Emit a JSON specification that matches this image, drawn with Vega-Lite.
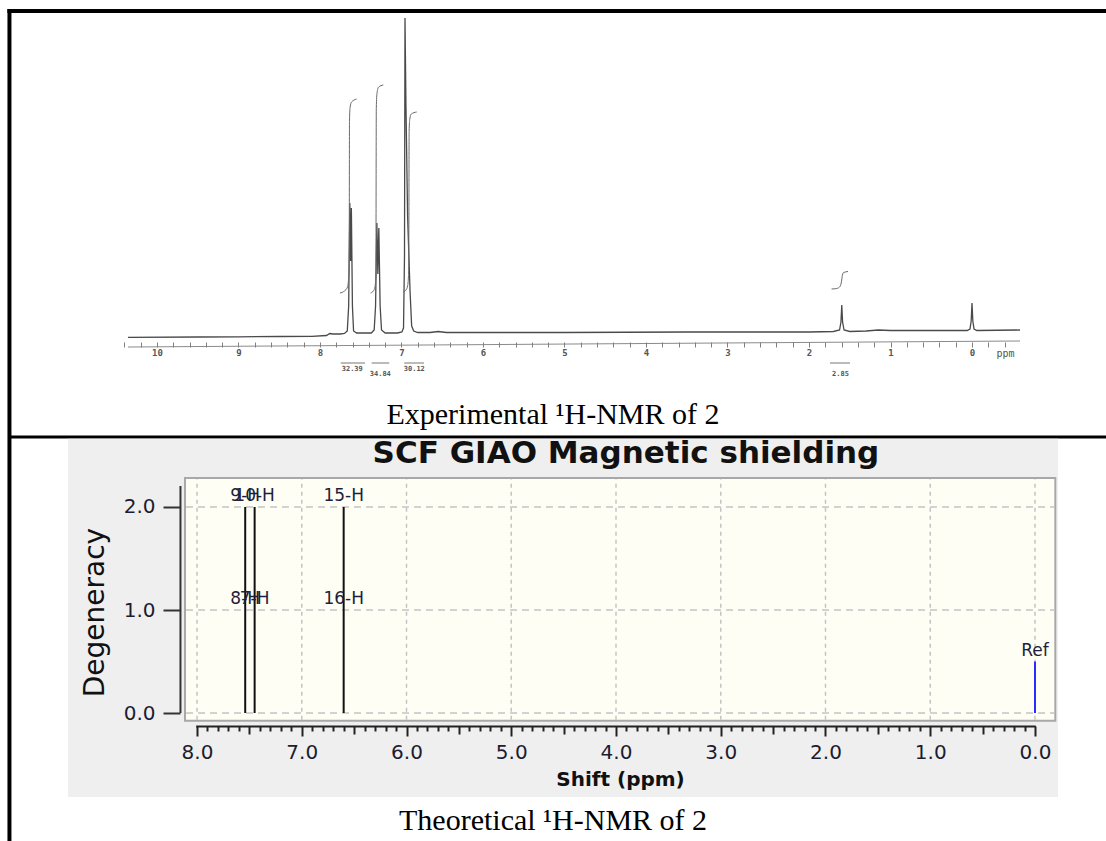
{
  "$schema": "https://vega.github.io/schema/vega-lite/v6.json",
  "width": 1106,
  "height": 841,
  "autosize": {"type": "none"},
  "padding": 0,
  "background": "white",
  "config": {"view": {"stroke": null}, "axis": {"grid": false}},
  "datasets": {
    "spectrum": [
      {"ppm": 10.356, "v": -1.3}, {"ppm": 9.5, "v": -1}, {"ppm": 9.0, "v": -0.8}, {"ppm": 8.5, "v": -0.5},
      {"ppm": 8.1, "v": -0.3}, {"ppm": 7.92, "v": 0.5}, {"ppm": 7.88, "v": 2.5}, {"ppm": 7.84, "v": 2},
      {"ppm": 7.75, "v": 2}, {"ppm": 7.70, "v": 2.5}, {"ppm": 7.665, "v": 5}, {"ppm": 7.648, "v": 30},
      {"ppm": 7.634, "v": 133}, {"ppm": 7.624, "v": 75}, {"ppm": 7.615, "v": 128}, {"ppm": 7.602, "v": 30},
      {"ppm": 7.588, "v": 5}, {"ppm": 7.55, "v": 3}, {"ppm": 7.45, "v": 3}, {"ppm": 7.37, "v": 3},
      {"ppm": 7.335, "v": 6}, {"ppm": 7.318, "v": 30}, {"ppm": 7.302, "v": 113}, {"ppm": 7.290, "v": 62},
      {"ppm": 7.278, "v": 108}, {"ppm": 7.262, "v": 30}, {"ppm": 7.245, "v": 6}, {"ppm": 7.20, "v": 3},
      {"ppm": 7.05, "v": 3}, {"ppm": 6.995, "v": 4}, {"ppm": 6.975, "v": 8}, {"ppm": 6.963, "v": 80},
      {"ppm": 6.957, "v": 318}, {"ppm": 6.945, "v": 230}, {"ppm": 6.925, "v": 120}, {"ppm": 6.895, "v": 45},
      {"ppm": 6.875, "v": 10}, {"ppm": 6.85, "v": 5}, {"ppm": 6.80, "v": 3.5}, {"ppm": 6.65, "v": 3.5},
      {"ppm": 6.55, "v": 4.5}, {"ppm": 6.45, "v": 3.5}, {"ppm": 5.0, "v": 3.5}, {"ppm": 3.5, "v": 4},
      {"ppm": 2.0, "v": 4}, {"ppm": 1.70, "v": 4.5}, {"ppm": 1.625, "v": 6}, {"ppm": 1.608, "v": 14},
      {"ppm": 1.598, "v": 31}, {"ppm": 1.588, "v": 14}, {"ppm": 1.570, "v": 6}, {"ppm": 1.50, "v": 4.5},
      {"ppm": 1.30, "v": 5}, {"ppm": 1.15, "v": 6}, {"ppm": 1.0, "v": 5.5}, {"ppm": 0.5, "v": 5.5},
      {"ppm": 0.06, "v": 5.5}, {"ppm": 0.025, "v": 7}, {"ppm": 0.010, "v": 15}, {"ppm": 0.0, "v": 33},
      {"ppm": -0.010, "v": 15}, {"ppm": -0.025, "v": 7}, {"ppm": -0.06, "v": 5.5}, {"ppm": -0.589, "v": 6}
    ],
    "integrals": [
      {"id": 1, "ppm": 7.755, "v": 43}, {"id": 1, "ppm": 7.700, "v": 45}, {"id": 1, "ppm": 7.662, "v": 49},
      {"id": 1, "ppm": 7.647, "v": 60}, {"id": 1, "ppm": 7.641, "v": 90}, {"id": 1, "ppm": 7.638, "v": 215},
      {"id": 1, "ppm": 7.630, "v": 229}, {"id": 1, "ppm": 7.612, "v": 234}, {"id": 1, "ppm": 7.550, "v": 237},
      {"id": 2, "ppm": 7.378, "v": 43}, {"id": 2, "ppm": 7.345, "v": 45}, {"id": 2, "ppm": 7.325, "v": 49},
      {"id": 2, "ppm": 7.316, "v": 60}, {"id": 2, "ppm": 7.313, "v": 90}, {"id": 2, "ppm": 7.309, "v": 228},
      {"id": 2, "ppm": 7.300, "v": 243}, {"id": 2, "ppm": 7.280, "v": 249}, {"id": 2, "ppm": 7.223, "v": 251},
      {"id": 3, "ppm": 6.977, "v": 44}, {"id": 3, "ppm": 6.945, "v": 46}, {"id": 3, "ppm": 6.925, "v": 50},
      {"id": 3, "ppm": 6.914, "v": 60}, {"id": 3, "ppm": 6.910, "v": 90}, {"id": 3, "ppm": 6.906, "v": 205},
      {"id": 3, "ppm": 6.898, "v": 217}, {"id": 3, "ppm": 6.880, "v": 222}, {"id": 3, "ppm": 6.813, "v": 224},
      {"id": 4, "ppm": 1.723, "v": 47}, {"id": 4, "ppm": 1.660, "v": 47.5}, {"id": 4, "ppm": 1.625, "v": 49},
      {"id": 4, "ppm": 1.605, "v": 53}, {"id": 4, "ppm": 1.597, "v": 57}, {"id": 4, "ppm": 1.590, "v": 61},
      {"id": 4, "ppm": 1.575, "v": 63.5}, {"id": 4, "ppm": 1.521, "v": 64.5}
    ],
    "integ": [
      {"ppm": 7.604, "from": 7.745, "to": 7.448, "value": "32.39", "tier": 0},
      {"ppm": 7.260, "from": 7.366, "to": 7.150, "value": "34.84", "tier": 1},
      {"ppm": 6.843, "from": 6.966, "to": 6.724, "value": "30.12", "tier": 0},
      {"ppm": 1.613, "from": 1.742, "to": 1.497, "value": "2.85", "tier": 1}
    ],
    "sticks": [
      {"shift": 7.54, "deg": 2, "kind": "H"},
      {"shift": 7.45, "deg": 2, "kind": "H"},
      {"shift": 6.60, "deg": 2, "kind": "H"},
      {"shift": 0.0, "deg": 0.5, "kind": "Ref"}
    ],
    "atoms": [
      {"shift": 7.54, "deg": 2, "label": "9-H"},
      {"shift": 7.54, "deg": 1, "label": "8-H"},
      {"shift": 7.45, "deg": 2, "label": "10-H"},
      {"shift": 7.45, "deg": 1, "label": "7-H"},
      {"shift": 6.60, "deg": 2, "label": "15-H"},
      {"shift": 6.60, "deg": 1, "label": "16-H"},
      {"shift": 0.0, "deg": 0.5, "label": "Ref"}
    ],
    "gridx": [{"shift": 8}, {"shift": 7}, {"shift": 6}, {"shift": 5}, {"shift": 4}, {"shift": 3}, {"shift": 2}, {"shift": 1}, {"shift": 0}],
    "gridy": [{"deg": 0}, {"deg": 1}, {"deg": 2}]
  },
  "resolve": {"scale": {"x": "independent", "y": "independent"}, "axis": {"x": "independent", "y": "independent"}},
  "layer": [
    {
      "layer": [
        {
          "data": {"name": "spectrum"},
          "mark": {"type": "line", "color": "#4a4a4a", "strokeWidth": 1.3, "interpolate": "linear"},
          "encoding": {
            "x": {"field": "ppm", "type": "quantitative", "scale": {"domain": [-1.644, 11.926], "reverse": true, "nice": false, "zero": false}, "axis": null},
            "y": {"field": "v", "type": "quantitative", "scale": {"domain": [-505, 336], "nice": false, "zero": false}, "axis": null}
          }
        },
        {
          "data": {"name": "integrals"},
          "mark": {"type": "line", "color": "#6a6a6a", "strokeWidth": 1, "interpolate": "monotone"},
          "encoding": {
            "x": {"field": "ppm", "type": "quantitative", "scale": {"domain": [-1.644, 11.926], "reverse": true, "nice": false, "zero": false}, "axis": null},
            "y": {"field": "v", "type": "quantitative", "scale": {"domain": [-505, 336], "nice": false, "zero": false}, "axis": null},
            "detail": {"field": "id"}
          }
        },
        {
          "data": {"values": [{}]},
          "mark": {"type": "rule", "color": "#8a8a8a", "strokeWidth": 1},
          "encoding": {
            "x": {"datum": 10.356, "type": "quantitative", "axis": null}, "x2": {"datum": -0.589},
            "y": {"datum": -11, "type": "quantitative", "axis": null}, "y2": {"datum": -5}
          }
        },
        {
          "data": {"name": "integ"},
          "mark": {"type": "rule", "color": "#777777", "strokeWidth": 1},
          "encoding": {
            "x": {"field": "from", "type": "quantitative", "axis": null}, "x2": {"field": "to"},
            "y": {"datum": -27, "type": "quantitative", "axis": null}
          }
        },
        {
          "data": {"name": "integ"},
          "transform": [{"filter": "datum.tier == 0"}],
          "mark": {"type": "text", "font": "DejaVu Sans Mono", "fontSize": 7, "fontWeight": "bold", "color": "#555555", "align": "center", "baseline": "middle"},
          "encoding": {
            "x": {"field": "ppm", "type": "quantitative", "axis": null},
            "y": {"datum": -33, "type": "quantitative", "axis": null},
            "text": {"field": "value"}
          }
        },
        {
          "data": {"name": "integ"},
          "transform": [{"filter": "datum.tier == 1"}],
          "mark": {"type": "text", "font": "DejaVu Sans Mono", "fontSize": 7, "fontWeight": "bold", "color": "#555555", "align": "center", "baseline": "middle"},
          "encoding": {
            "x": {"field": "ppm", "type": "quantitative", "axis": null},
            "y": {"datum": -38, "type": "quantitative", "axis": null},
            "text": {"field": "value"}
          }
        },
        {
          "data": {"values": [{"caption": "Experimental ¹H-NMR of 2"}]},
          "mark": {"type": "text", "font": "Liberation Serif", "fontSize": 30, "color": "#000000", "align": "center", "baseline": "alphabetic"},
          "encoding": {
            "x": {"datum": 5.141, "type": "quantitative", "axis": null},
            "y": {"datum": -88, "type": "quantitative", "axis": null},
            "text": {"field": "caption"}
          }
        },
        {
          "data": {"values": [{}]},
          "mark": {"type": "rule", "color": "#000000", "strokeWidth": 4},
          "encoding": {
            "x": {"datum": 11.835, "type": "quantitative", "axis": null}, "x2": {"datum": -1.644},
            "y": {"datum": 325, "type": "quantitative", "axis": null}
          }
        },
        {
          "data": {"values": [{}]},
          "mark": {"type": "rule", "color": "#000000", "strokeWidth": 3},
          "encoding": {
            "x": {"datum": 11.81, "type": "quantitative", "axis": null}, "x2": {"datum": -1.644},
            "y": {"datum": -101, "type": "quantitative", "axis": null}
          }
        },
        {
          "data": {"values": [{}]},
          "mark": {"type": "rule", "color": "#000000", "strokeWidth": 4},
          "encoding": {
            "x": {"datum": 11.81, "type": "quantitative", "axis": null},
            "y": {"datum": 327, "type": "quantitative", "axis": null}, "y2": {"datum": -505}
          }
        }
      ]
    },
    {
      "data": {"name": "spectrum"},
      "mark": {"type": "point", "opacity": 0},
      "encoding": {
        "x": {
          "field": "ppm", "type": "quantitative",
          "scale": {"domain": [-1.644, 11.926], "reverse": true, "nice": false, "zero": false},
          "axis": {
            "orient": "bottom", "offset": -499, "domain": false, "grid": false, "zindex": 1,
            "values": [10.4, 10.2, 10, 9.8, 9.6, 9.4, 9.2, 9, 8.8, 8.6, 8.4, 8.2, 8, 7.8, 7.6, 7.4, 7.2, 7, 6.8, 6.6, 6.4, 6.2, 6, 5.8, 5.6, 5.4, 5.2, 5, 4.8, 4.6, 4.4, 4.2, 4, 3.8, 3.6, 3.4, 3.2, 3, 2.8, 2.6, 2.4, 2.2, 2, 1.8, 1.6, 1.4, 1.2, 1, 0.8, 0.6, 0.4, 0.2, 0, -0.2, -0.4],
            "labelExpr": "abs(datum.value - round(datum.value)) < 0.01 ? format(datum.value, 'd') : ''",
            "tickSize": 5, "tickWidth": 1, "tickColor": "#808080",
            "labelFont": "DejaVu Sans Mono", "labelFontWeight": "bold", "labelFontSize": 9, "labelColor": "#555555",
            "labelPadding": 1, "labelOverlap": false, "labelFlush": false,
            "title": "ppm", "titleFont": "DejaVu Sans Mono", "titleFontSize": 10, "titleFontWeight": "normal",
            "titleColor": "#555555", "titleX": 1005, "titleY": 11, "titleAlign": "center", "titleBaseline": "middle"
          }
        }
      }
    },
    {
      "layer": [
        {
          "data": {"values": [{}]},
          "mark": {"type": "rect", "color": "#efefef"},
          "encoding": {
            "x": {"datum": 9.232, "type": "quantitative", "axis": null}, "x2": {"datum": -0.220},
            "y": {"datum": 2.662, "type": "quantitative", "axis": null}, "y2": {"datum": -0.816}
          }
        },
        {
          "data": {"values": [{}]},
          "mark": {"type": "rect", "fill": "#fefef4", "stroke": "#a8a8a8", "strokeWidth": 2},
          "encoding": {
            "x": {"datum": 8.115, "type": "quantitative", "axis": null}, "x2": {"datum": -0.194},
            "y": {"datum": 2.282, "type": "quantitative", "axis": null}, "y2": {"datum": -0.075}
          }
        },
        {
          "data": {"name": "gridx"},
          "mark": {"type": "rule", "color": "#c4c4c4", "strokeWidth": 1.5, "strokeDash": [4, 4]},
          "encoding": {
            "x": {"field": "shift", "type": "quantitative", "scale": {"domain": [-0.678, 9.881], "reverse": true, "nice": false, "zero": false}, "axis": null},
            "y": {"datum": -0.065, "type": "quantitative", "axis": null}, "y2": {"datum": 2.27}
          }
        },
        {
          "data": {"name": "gridy"},
          "mark": {"type": "rule", "color": "#c4c4c4", "strokeWidth": 1.5, "strokeDash": [7, 5]},
          "encoding": {
            "y": {"field": "deg", "type": "quantitative", "scale": {"domain": [-1.2427, 6.9223], "nice": false, "zero": false}, "axis": null},
            "x": {"datum": 8.105, "type": "quantitative", "axis": null}, "x2": {"datum": -0.185}
          }
        },
        {
          "data": {"values": [{}]},
          "mark": {"type": "rule", "color": "#333333", "strokeWidth": 2},
          "encoding": {
            "x": {"datum": 8.158, "type": "quantitative", "axis": null},
            "y": {"datum": 0, "type": "quantitative", "axis": null}, "y2": {"datum": 2.204}
          }
        },
        {
          "data": {"values": [{}]},
          "mark": {"type": "rule", "color": "#222222", "strokeWidth": 2},
          "encoding": {
            "x": {"datum": 8.008, "type": "quantitative", "axis": null}, "x2": {"datum": -0.008},
            "y": {"datum": -0.131, "type": "quantitative", "axis": null}
          }
        },
        {
          "data": {"name": "sticks"},
          "mark": {"type": "rule", "strokeWidth": 2},
          "encoding": {
            "x": {"field": "shift", "type": "quantitative", "scale": {"domain": [-0.678, 9.881], "reverse": true, "nice": false, "zero": false}, "axis": null},
            "y": {"field": "deg", "type": "quantitative", "scale": {"domain": [-1.2427, 6.9223], "nice": false, "zero": false}, "axis": null},
            "y2": {"datum": 0},
            "color": {"field": "kind", "type": "nominal", "scale": {"domain": ["H", "Ref"], "range": ["#111111", "#2b2bff"]}, "legend": null}
          }
        },
        {
          "data": {"name": "atoms"},
          "mark": {"type": "text", "font": "DejaVu Sans", "fontSize": 17, "color": "#1e1e3c", "align": "center", "baseline": "alphabetic", "dy": -6},
          "encoding": {
            "x": {"field": "shift", "type": "quantitative", "axis": null},
            "y": {"field": "deg", "type": "quantitative", "axis": null},
            "text": {"field": "label"}
          }
        },
        {
          "data": {"values": [{"title": "SCF GIAO Magnetic shielding"}]},
          "mark": {"type": "text", "font": "DejaVu Sans", "fontSize": 31, "fontWeight": "bold", "color": "#111111", "align": "center", "baseline": "alphabetic"},
          "encoding": {
            "x": {"datum": 3.905, "type": "quantitative", "axis": null},
            "y": {"datum": 2.427, "type": "quantitative", "axis": null},
            "text": {"field": "title"}
          }
        },
        {
          "data": {"values": [{"caption": "Theoretical ¹H-NMR of 2"}]},
          "mark": {"type": "text", "font": "Liberation Serif", "fontSize": 30, "color": "#000000", "align": "center", "baseline": "alphabetic"},
          "encoding": {
            "x": {"datum": 4.601, "type": "quantitative", "axis": null},
            "y": {"datum": -1.136, "type": "quantitative", "axis": null},
            "text": {"field": "caption"}
          }
        }
      ]
    },
    {
      "data": {"name": "sticks"},
      "mark": {"type": "point", "opacity": 0},
      "encoding": {
        "x": {
          "field": "shift", "type": "quantitative",
          "scale": {"domain": [-0.678, 9.881], "reverse": true, "nice": false, "zero": false},
          "axis": {
            "orient": "bottom", "offset": -115, "domain": false, "grid": false, "zindex": 1,
            "values": [8, 7, 6, 5, 4, 3, 2, 1, 0], "format": ".1f",
            "tickSize": 10, "tickWidth": 2, "tickColor": "#222222",
            "labelFont": "DejaVu Sans", "labelFontSize": 20, "labelColor": "#1c1c30",
            "labelPadding": 6, "labelOverlap": false, "labelFlush": false,
            "title": "Shift (ppm)", "titleFont": "DejaVu Sans", "titleFontSize": 20, "titleFontWeight": "bold",
            "titleColor": "#111111", "titleX": 620, "titleY": 53, "titleAlign": "center", "titleBaseline": "middle"
          }
        },
        "y": {
          "field": "deg", "type": "quantitative",
          "scale": {"domain": [-1.2427, 6.9223], "nice": false, "zero": false},
          "axis": {
            "orient": "left", "offset": -180, "domain": false, "grid": false, "zindex": 1,
            "values": [0, 1, 2], "format": ".1f",
            "tickSize": 17, "tickWidth": 2, "tickColor": "#333333",
            "labelFont": "DejaVu Sans", "labelFontSize": 20, "labelColor": "#1c1c30", "labelPadding": 8,
            "title": "Degeneracy", "titleFont": "DejaVu Sans", "titleFontSize": 28, "titleFontWeight": "normal",
            "titleColor": "#111111", "titleX": -85, "titleY": 612, "titleAngle": -90, "titleAlign": "center", "titleBaseline": "middle"
          }
        }
      }
    },
    {
      "data": {"name": "gridx"},
      "mark": {"type": "point", "opacity": 0},
      "encoding": {
        "x": {
          "field": "shift", "type": "quantitative",
          "scale": {"domain": [-0.678, 9.881], "reverse": true, "nice": false, "zero": false},
          "axis": {
            "orient": "bottom", "offset": -115, "domain": false, "grid": false, "zindex": 1, "labels": false, "title": null,
            "values": [7.9, 7.8, 7.7, 7.6, 7.4, 7.3, 7.2, 7.1, 6.9, 6.8, 6.7, 6.6, 6.4, 6.3, 6.2, 6.1, 5.9, 5.8, 5.7, 5.6, 5.4, 5.3, 5.2, 5.1, 4.9, 4.8, 4.7, 4.6, 4.4, 4.3, 4.2, 4.1, 3.9, 3.8, 3.7, 3.6, 3.4, 3.3, 3.2, 3.1, 2.9, 2.8, 2.7, 2.6, 2.4, 2.3, 2.2, 2.1, 1.9, 1.8, 1.7, 1.6, 1.4, 1.3, 1.2, 1.1, 0.9, 0.8, 0.7, 0.6, 0.4, 0.3, 0.2, 0.1],
            "tickSize": 5, "tickWidth": 2, "tickColor": "#222222"
          }
        }
      }
    },
    {
      "data": {"name": "gridx"},
      "mark": {"type": "point", "opacity": 0},
      "encoding": {
        "x": {
          "field": "shift", "type": "quantitative",
          "scale": {"domain": [-0.678, 9.881], "reverse": true, "nice": false, "zero": false},
          "axis": {
            "orient": "bottom", "offset": -115, "domain": false, "grid": false, "zindex": 1, "labels": false, "title": null,
            "values": [7.5, 6.5, 5.5, 4.5, 3.5, 2.5, 1.5, 0.5],
            "tickSize": 8, "tickWidth": 2, "tickColor": "#222222"
          }
        }
      }
    }
  ]
}
